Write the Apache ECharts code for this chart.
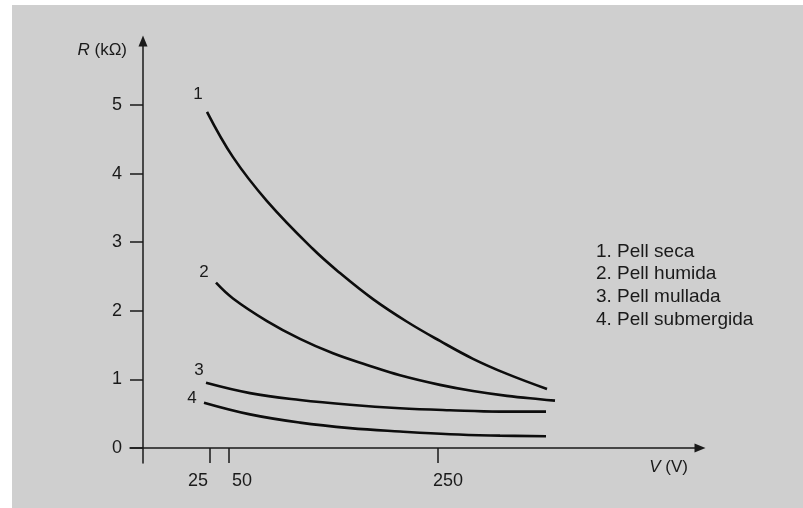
<!DOCTYPE html>
<html>
<head>
<meta charset="utf-8">
<script src="https://cdn.jsdelivr.net/npm/echarts@6/dist/echarts.min.js"></script>
<style>
  html, body { margin: 0; padding: 0; background: #ffffff; }
  #chart { width: 803px; height: 508px; }
</style>
</head>
<body>
<div id="chart"></div>
<script>
// Schematic x-axis positions (the drawing's V axis is not to scale)
const xTickPositions = [67, 86, 295];
const xTickLabels = ['25', '50', '250'];
const yTicks = [0, 1, 2, 3, 4, 5];

const seriesNames = ['1. Pell seca', '2. Pell humida', '3. Pell mullada', '4. Pell submergida'];
const curveTags = ['1', '2', '3', '4'];

const curve1X = [64, 90, 124, 170, 197, 230, 264, 297, 330, 364, 404];
const curve1Y = [4.90, 4.24, 3.60, 2.90, 2.55, 2.17, 1.84, 1.56, 1.30, 1.08, 0.86];

const curve2X = [73, 90, 124, 157, 190, 224, 257, 297, 330, 364, 397, 412];
const curve2Y = [2.41, 2.18, 1.85, 1.59, 1.38, 1.21, 1.06, 0.92, 0.83, 0.76, 0.71, 0.69];

const curve3X = [63, 107, 157, 207, 257, 307, 357, 403];
const curve3Y = [0.95, 0.80, 0.70, 0.63, 0.58, 0.55, 0.53, 0.53];

const curve4X = [61, 107, 157, 207, 257, 307, 357, 403];
const curve4Y = [0.66, 0.49, 0.37, 0.29, 0.24, 0.20, 0.18, 0.17];

const curvesX = [curve1X, curve2X, curve3X, curve4X];
const curvesY = [curve1Y, curve2Y, curve3Y, curve4Y];
const tagOffsets = [[-9, -18], [-12, -10], [-7, -12], [-12, -4]];

const FONT = 'Liberation Sans';
const INK = '#1a1a1a';

const series = curvesX.map((xs, i) => ({
  name: seriesNames[i],
  type: 'line',
  smooth: 0.4,
  symbol: 'circle',
  symbolSize: 0.1,
  showSymbol: true,
  silent: true,
  itemStyle: { color: 'rgba(0,0,0,0)' },
  lineStyle: { color: '#0d0d0d', width: 2.6 },
  label: { show: false },
  data: xs.map((x, j) => {
    const item = { value: [x, curvesY[i][j]] };
    if (j === 0) {
      item.label = {
        show: true,
        position: 'inside',
        offset: tagOffsets[i],
        formatter: curveTags[i],
        fontFamily: FONT,
        fontSize: 17,
        color: INK
      };
    }
    return item;
  })
}));

const richItalic = { i: { fontStyle: 'italic', fontFamily: FONT, fontSize: 17, fill: INK } };

const chart = echarts.init(document.getElementById('chart'), null, { renderer: 'canvas' });
chart.setOption({
  backgroundColor: '#ffffff',
  animation: false,
  graphic: [
    { type: 'rect', shape: { x: 12, y: 5, width: 791, height: 503 }, style: { fill: '#cfcfcf' }, z: -10, silent: true },
    {
      type: 'text', z: 10, silent: true,
      style: { x: 127, y: 50, align: 'right', verticalAlign: 'middle', text: '{i|R} (kΩ)', rich: richItalic, fontFamily: FONT, fontSize: 17, fill: INK }
    },
    {
      type: 'text', z: 10, silent: true,
      style: { x: 688, y: 467, align: 'right', verticalAlign: 'middle', text: '{i|V} (V)', rich: richItalic, fontFamily: FONT, fontSize: 17, fill: INK }
    }
  ],
  legend: {
    orient: 'vertical',
    left: 591,
    top: 242,
    padding: 0,
    itemWidth: 0,
    itemHeight: 19,
    itemGap: 3.6,
    icon: 'none',
    selectedMode: false,
    textStyle: { fontFamily: FONT, fontSize: 19, color: INK },
    data: seriesNames
  },
  grid: { left: 130, right: 103, top: 41, bottom: 45, containLabel: false },
  xAxis: {
    type: 'value',
    min: -13,
    max: 557,
    splitLine: { show: false },
    axisLine: { show: true, onZero: true, symbol: ['none', 'triangle'], symbolSize: [9, 11], lineStyle: { color: INK, width: 1.5 } },
    axisTick: { show: true, length: 15, inside: false, customValues: xTickPositions, lineStyle: { color: INK, width: 1.5 } },
    axisLabel: {
      show: true,
      margin: 9,
      customValues: xTickPositions,
      formatter: function (v) {
        const k = xTickPositions.indexOf(v);
        if (k < 0) return '';
        const styles = ['l', 'r', 'r2'];
        return '{' + styles[k] + '|' + xTickLabels[k] + '}';
      },
      rich: {
        l: { fontFamily: FONT, fontSize: 18, color: INK, padding: [0, 24, 0, 0] },
        r: { fontFamily: FONT, fontSize: 18, color: INK, padding: [0, 0, 0, 26] },
        r2: { fontFamily: FONT, fontSize: 18, color: INK, padding: [0, 0, 0, 20] }
      }
    }
  },
  yAxis: {
    type: 'value',
    min: -0.219,
    max: 5.933,
    splitLine: { show: false },
    axisLine: { show: true, onZero: true, symbol: ['none', 'triangle'], symbolSize: [9, 11], lineStyle: { color: INK, width: 1.5 } },
    axisTick: { show: true, length: 13, inside: false, customValues: yTicks, lineStyle: { color: INK, width: 1.5 } },
    axisLabel: {
      show: true,
      margin: 8,
      customValues: yTicks,
      fontFamily: FONT,
      fontSize: 18,
      color: INK
    }
  },
  series: series
});
</script>
</body>
</html>
